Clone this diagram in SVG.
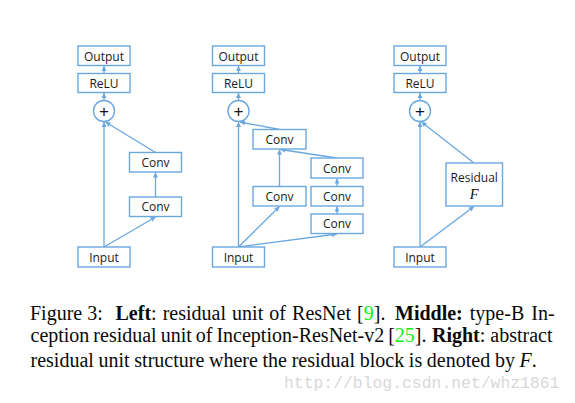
<svg xmlns="http://www.w3.org/2000/svg" width="575" height="403" viewBox="0 0 575 403">
<style>
.box{fill:#fff;stroke:#6aa7df;stroke-width:1.4}
.lbl{font-family:"Open Sans","Liberation Sans",sans-serif;font-size:12px;fill:#1a1a1a;text-anchor:middle}
.plus{font-family:"Liberation Sans",sans-serif;font-size:17px;fill:#111;text-anchor:middle}
.ln{stroke:#6aa7df;stroke-width:1.3;fill:none;marker-end:url(#ah)}
.cap{font-family:"Liberation Serif","Times New Roman",serif;font-size:20px;fill:#0a0a0a}
.b{font-weight:bold}
.g{fill:#11ee11}
.wm{font-family:"Liberation Mono","Courier New",monospace;font-size:16.4px;fill:#d8d8d8}
</style>
<defs>
<marker id="ah" markerUnits="userSpaceOnUse" markerWidth="5" markerHeight="5" viewBox="0 0 6 6" refX="6" refY="3" orient="auto">
<path d="M0,0 L6,3 L0,6 z" fill="#6aa7df"/>
</marker>
</defs>
<rect width="575" height="403" fill="#fff"/>
<g id="connectors">
<line class="ln" x1="104" y1="73.5" x2="104" y2="66"/>
<line class="ln" x1="104" y1="100.5" x2="104" y2="93"/>
<line class="ln" x1="104" y1="247" x2="104" y2="122"/>
<line class="ln" x1="104" y1="247" x2="155.5" y2="217"/>
<line class="ln" x1="155.5" y1="197" x2="155.5" y2="172.5"/>
<line class="ln" x1="155.5" y1="152.5" x2="105.5" y2="122"/>
<line class="ln" x1="238.5" y1="73.5" x2="238.5" y2="66"/>
<line class="ln" x1="238.5" y1="100.5" x2="238.5" y2="93"/>
<line class="ln" x1="238.5" y1="247" x2="238.5" y2="122"/>
<line class="ln" x1="238.5" y1="247" x2="279.5" y2="206.5"/>
<line class="ln" x1="238.5" y1="247" x2="337" y2="234"/>
<line class="ln" x1="279.5" y1="186.5" x2="279.5" y2="149.5"/>
<line class="ln" x1="337" y1="158" x2="280.5" y2="149.5"/>
<line class="ln" x1="337" y1="214" x2="337" y2="206.5"/>
<line class="ln" x1="337" y1="186.5" x2="337" y2="178.5"/>
<line class="ln" x1="279.5" y1="129.5" x2="240" y2="122"/>
<line class="ln" x1="420" y1="73.5" x2="420" y2="66"/>
<line class="ln" x1="420" y1="100.5" x2="420" y2="93"/>
<line class="ln" x1="420" y1="247" x2="420" y2="122"/>
<line class="ln" x1="420" y1="247" x2="474" y2="206.5"/>
<line class="ln" x1="474" y1="163" x2="421.5" y2="122"/>
</g>
<g id="l-output"><rect class="box" x="78" y="46" width="52" height="19.5"/><text class="lbl" x="104" y="60.5">Output</text></g>
<g id="l-relu"><rect class="box" x="78" y="73.5" width="52" height="19"/><text class="lbl" x="104" y="87.7">ReLU</text></g>
<g id="l-add"><circle class="box" cx="104" cy="111" r="10.5"/><text class="plus" x="104" y="117">+</text></g>
<g id="l-conv2"><rect class="box" x="129.5" y="152.5" width="52" height="19.5"/><text class="lbl" x="155.5" y="166.8">Conv</text></g>
<g id="l-conv1"><rect class="box" x="129.5" y="197" width="52" height="19.5"/><text class="lbl" x="155.5" y="211.3">Conv</text></g>
<g id="l-input"><rect class="box" x="78" y="247" width="52" height="20"/><text class="lbl" x="104" y="261.5">Input</text></g>
<g id="m-output"><rect class="box" x="212.5" y="46" width="52" height="19.5"/><text class="lbl" x="238.5" y="60.5">Output</text></g>
<g id="m-relu"><rect class="box" x="212.5" y="73.5" width="52" height="19"/><text class="lbl" x="238.5" y="87.7">ReLU</text></g>
<g id="m-add"><circle class="box" cx="238.5" cy="111" r="10.5"/><text class="plus" x="238.5" y="117">+</text></g>
<g id="m-conv-top"><rect class="box" x="253" y="129.5" width="53" height="19.5"/><text class="lbl" x="279.5" y="143.8">Conv</text></g>
<g id="m-conv-r3"><rect class="box" x="311" y="158" width="52" height="20"/><text class="lbl" x="337" y="172.5">Conv</text></g>
<g id="m-conv-l1"><rect class="box" x="253" y="186.5" width="53" height="19.5"/><text class="lbl" x="279.5" y="200.8">Conv</text></g>
<g id="m-conv-r2"><rect class="box" x="311" y="186.5" width="52" height="19.5"/><text class="lbl" x="337" y="200.8">Conv</text></g>
<g id="m-conv-r1"><rect class="box" x="311" y="214" width="52" height="19.5"/><text class="lbl" x="337" y="228.3">Conv</text></g>
<g id="m-input"><rect class="box" x="212.5" y="247" width="52" height="20"/><text class="lbl" x="238.5" y="261.5">Input</text></g>
<g id="r-output"><rect class="box" x="394" y="46" width="52" height="19.5"/><text class="lbl" x="420" y="60.5">Output</text></g>
<g id="r-relu"><rect class="box" x="394" y="73.5" width="52" height="19"/><text class="lbl" x="420" y="87.7">ReLU</text></g>
<g id="r-add"><circle class="box" cx="420" cy="111" r="10.5"/><text class="plus" x="420" y="117">+</text></g>
<g id="r-residual"><rect class="box" x="446" y="163" width="56.5" height="43"/><text class="lbl" x="474.2" y="181.5">Residual</text><text x="474.2" y="199" style="font-family:'Liberation Serif',serif;font-style:italic;font-size:14.5px;fill:#111;text-anchor:middle">F</text></g>
<g id="r-input"><rect class="box" x="394" y="247" width="52" height="20"/><text class="lbl" x="420" y="261.5">Input</text></g>
<g id="caption">
<text class="cap" y="319.5"><tspan x="30">Figure 3:</tspan><tspan x="115.5" class="b">Left</tspan><tspan word-spacing="1.1">: residual unit of ResNet [</tspan><tspan class="g">9</tspan><tspan>].</tspan><tspan x="395" class="b">Middle:</tspan><tspan word-spacing="2"> type-B In-</tspan></text>
<text class="cap" y="342"><tspan x="30.5" word-spacing="-1">ception residual unit of Inception-ResNet-v2 [</tspan><tspan class="g">25</tspan><tspan>].</tspan><tspan x="432" class="b">Right</tspan><tspan>: abstract</tspan></text>
<text class="cap" y="366.5" x="30.5" word-spacing="-0.3">residual unit structure where the residual block is denoted by <tspan font-style="italic">F</tspan>.</text>
</g>
<text class="wm" x="284" y="387.5">http://blog.csdn.net/whz1861</text>
</svg>
